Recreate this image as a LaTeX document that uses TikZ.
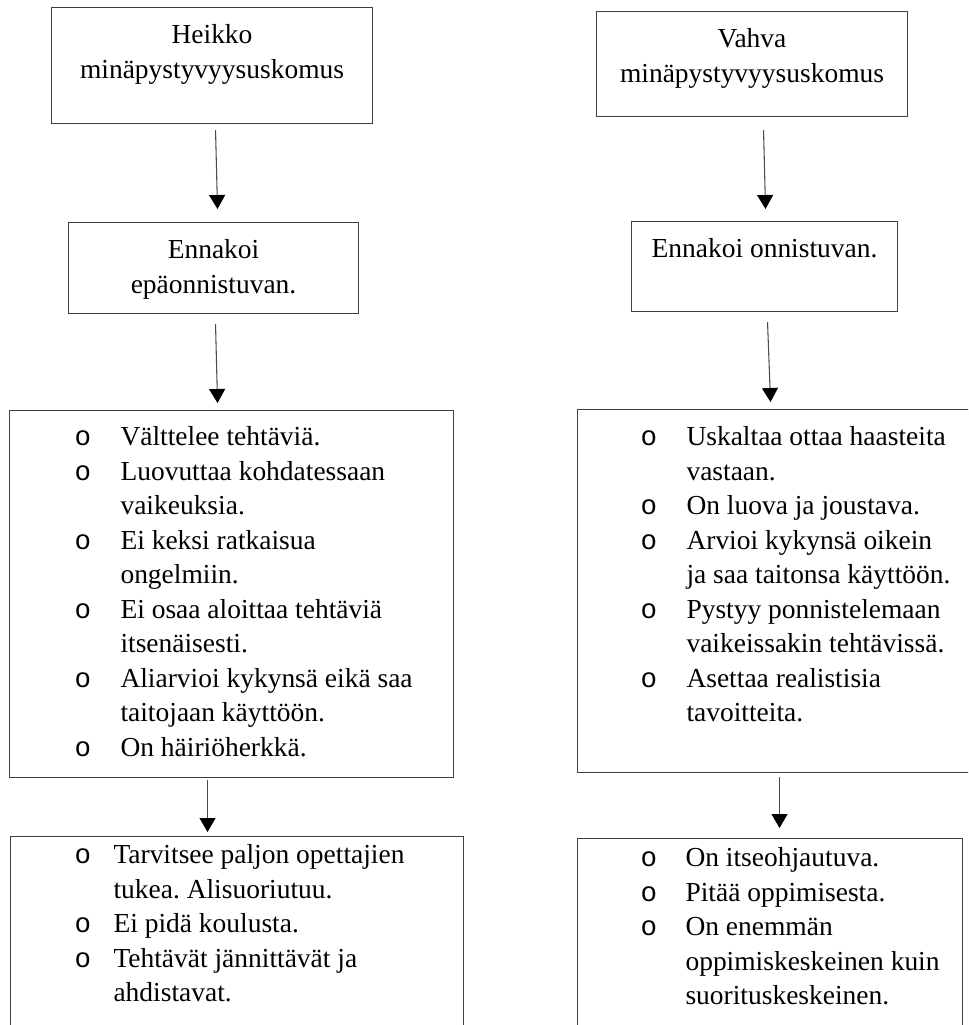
\documentclass[tikz,border=0pt]{standalone}
\usepackage{fontspec}
\setmainfont{Liberation Serif}
\newfontfamily\bulfont{Liberation Mono}
\usetikzlibrary{arrows.meta, calc}
\frenchspacing
\newdimen\px \px=0.75pt
\newdimen\bulL \newdimen\bulW
\newcommand{\itembul}{\hspace*{\bulL}\makebox[\bulW][l]{\bulfont o}}
\newcommand{\contline}{\hspace*{\bulL}\hspace*{\bulW}}
% width, height, first baseline, alignment, text
\newcommand{\boxtext}[5]{\parbox[c][#2\px][t]{#1\px}{#4\rule{0pt}{#3\px}#5}}
\tikzset{
  box/.style={draw=black!75, line width=0.8pt, inner sep=0pt, anchor=north west,
    font=\fontsize{20.6pt}{25.9pt}\selectfont\frenchspacing},
  arrow/.style={-{Triangle[length=10.5pt, width=12pt, color=black]}, draw=black!70, line width=0.8pt},
}
\begin{document}
\begin{tikzpicture}[x=0.75pt, y=-0.75pt]
  \useasboundingbox (0,0) rectangle (968,1025);
  \clip (0,0) rectangle (968,1025);
  % ---- left column: weak belief
  \node[box] (w1) at (51,7) {\boxtext{321}{116}{36}{\centering}{Heikko\\minäpystyvyysuskomus}};
  \node[box] (w2) at (68,222) {\boxtext{290}{91}{36}{\centering}{Ennakoi\\epäonnistuvan.}};
  \node[box] (w3) at (9,410) {\boxtext{444}{367}{35}{\raggedright \bulL=65\px \bulW=46\px}{%
    \itembul Välttelee tehtäviä.\\
    \itembul Luovuttaa kohdatessaan\\
    \contline vaikeuksia.\\
    \itembul Ei keksi ratkaisua\\
    \contline ongelmiin.\\
    \itembul Ei osaa aloittaa tehtäviä\\
    \contline itsenäisesti.\\
    \itembul Aliarvioi kykynsä eikä saa\\
    \contline taitojaan käyttöön.\\
    \itembul On häiriöherkkä.}};
  \node[box] (w4) at (10,836) {\boxtext{453}{250}{27}{\raggedright \bulL=64\px \bulW=39\px}{%
    \itembul Tarvitsee paljon opettajien\\
    \contline tukea. Alisuoriutuu.\\
    \itembul Ei pidä koulusta.\\
    \itembul Tehtävät jännittävät ja\\
    \contline ahdistavat.}};
  \draw[arrow] ($(w1.south)+(3.5,6)$) -- ($(w2.north)+(4,-13)$);
  \draw[arrow] ($(w2.south)+(2,10)$) -- ($(w3.north)+(-14,-7)$);
  \draw[arrow] ($(w3.south)+(-24,2)$) -- ($(w4.north)+(-29.5,-4)$);
  % ---- right column: strong belief
  \node[box] (s1) at (596,11) {\boxtext{311}{105}{36}{\centering}{Vahva\\minäpystyvyysuskomus}};
  \node[box] (s2) at (631,221) {\boxtext{266}{90}{36}{\centering}{Ennakoi onnistuvan.}};
  \node[box] (s3) at (577,409) {\boxtext{420}{363}{36}{\raggedright \bulL=63\px \bulW=46\px}{%
    \itembul Uskaltaa ottaa haasteita\\
    \contline vastaan.\\
    \itembul On luova ja joustava.\\
    \itembul Arvioi kykynsä oikein\\
    \contline ja saa taitonsa käyttöön.\\
    \itembul Pystyy ponnistelemaan\\
    \contline vaikeissakin tehtävissä.\\
    \itembul Asettaa realistisia\\
    \contline tavoitteita.}};
  \node[box] (s4) at (577,838) {\boxtext{385}{250}{28}{\raggedright \bulL=63\px \bulW=45\px}{%
    \itembul On itseohjautuva.\\
    \itembul Pitää oppimisesta.\\
    \itembul On enemmän\\
    \contline oppimiskeskeinen kuin\\
    \contline suorituskeskeinen.}};
  \draw[arrow] ($(s1.south)+(11.5,13)$) -- ($(s2.north)+(1,-12)$);
  \draw[arrow] ($(s2.south)+(3,10)$) -- ($(s3.north)+(-17,-7)$);
  \draw[arrow] ($(s3.south)+(-8,4)$) -- ($(s4.north)+(9.5,-10)$);
\end{tikzpicture}
\end{document}
